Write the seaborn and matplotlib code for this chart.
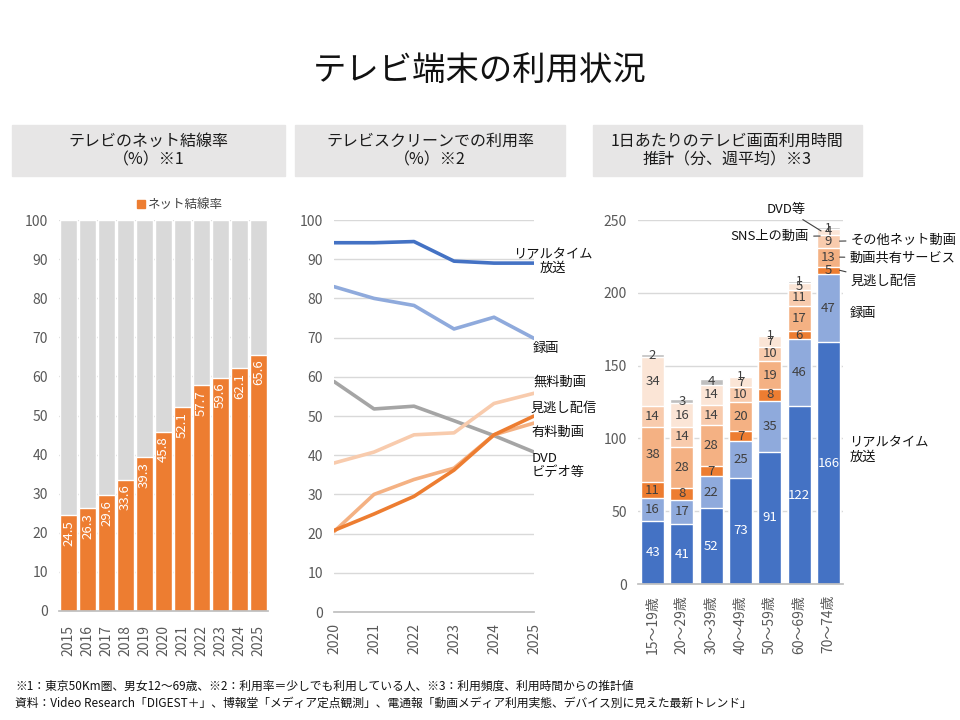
import numpy as np
import pandas as pd
import matplotlib
matplotlib.use("Agg")
import matplotlib.pyplot as plt
from matplotlib.patches import Rectangle, Patch
import seaborn as sns

sns.set_theme(style="white")
plt.rcParams['font.family'] = ['Noto Sans CJK JP', 'DejaVu Sans']

# ---------------- data ----------------
net_years = ["2015", "2016", "2017", "2018", "2019", "2020", "2021", "2022", "2023", "2024", "2025"]
net_rate = [24.5, 26.3, 29.6, 33.6, 39.3, 45.8, 52.1, 57.7, 59.6, 62.1, 65.6]

use_years = [2020, 2021, 2022, 2023, 2024, 2025]
use_realtime = [94.2, 94.2, 94.5, 89.5, 89.0, 89.0]
use_record = [83.0, 80.0, 78.2, 72.2, 75.2, 69.8]
use_free = [38.0, 40.8, 45.2, 45.7, 53.2, 55.8]
use_catchup = [20.8, 25.0, 29.5, 36.2, 45.2, 50.0]
use_paid = [20.5, 30.0, 33.8, 36.7, 45.2, 48.2]
use_dvd = [58.8, 51.8, 52.5, 48.8, 45.0, 40.8]

age_groups = ["15～19歳", "20～29歳", "30～39歳", "40～49歳", "50～59歳", "60～69歳", "70～74歳"]
time_realtime = [43, 41, 52, 73, 91, 122, 166]
time_record = [16, 17, 22, 25, 35, 46, 47]
time_catchup = [11, 8, 7, 7, 8, 6, 5]
time_share = [38, 28, 28, 20, 19, 17, 13]
time_other = [14, 14, 14, 10, 10, 11, 9]
time_sns = [34, 16, 14, 7, 7, 5, 4]
time_dvd = [2, 3, 4, 1, 1, 1, 1]

ORANGE = "#ED7D31"
GRID = "#D9D9D9"
TICK = "#595959"

W, H = 960, 720
fig = plt.figure(figsize=(9.6, 7.2), dpi=100)
fig.patch.set_facecolor("white")


def px_axes(l, t, r, b):
    return fig.add_axes([l / W, 1 - b / H, (r - l) / W, (b - t) / H])


def header(l, t, r, b, text):
    fig.patches.append(Rectangle((l / W, 1 - b / H), (r - l) / W, (b - t) / H,
                                 transform=fig.transFigure, color="#E7E6E6", zorder=0))
    fig.text((l + r) / 2 / W, 1 - (t + b) / 2 / H, text, ha="center", va="center",
             fontsize=11.5, color="#1a1a1a", linespacing=1.15)


def style_axes(ax):
    for s in ["top", "right", "left"]:
        ax.spines[s].set_visible(False)
    ax.spines["bottom"].set_color("#BFBFBF")
    ax.grid(axis="y", color=GRID, linewidth=1)
    ax.set_axisbelow(True)
    ax.tick_params(axis="y", length=0, labelsize=10, labelcolor=TICK, pad=8)
    ax.tick_params(axis="x", labelsize=10, labelcolor=TICK)
    ax.set_xlabel("")
    ax.set_ylabel("")


# ---------------- title & headers ----------------
fig.text(0.5, 1 - 70 / H, "テレビ端末の利用状況", ha="center", va="center", fontsize=24, color="#111111")
header(12, 125, 285, 176, "テレビのネット結線率\n（%）※1")
header(295, 125, 565, 176, "テレビスクリーンでの利用率\n（%）※2")
header(593, 125, 862, 176, "1日あたりのテレビ画面利用時間\n推計（分、週平均）※3")

# ---------------- left chart ----------------
ax1 = px_axes(59, 220, 268, 611)
df_net = pd.DataFrame({"year": net_years, "rate": net_rate, "full": [100] * len(net_years)})
sns.barplot(data=df_net, x="year", y="full", color=GRID, width=0.87, saturation=1,
            errorbar=None, ax=ax1)
sns.barplot(data=df_net, x="year", y="rate", color=ORANGE, width=0.87, saturation=1,
            errorbar=None, ax=ax1)
ax1.set_xlim(-0.5, len(net_years) - 0.5)
ax1.set_ylim(0, 100)
ax1.set_yticks(range(0, 101, 10))
style_axes(ax1)
ax1.grid(False)
ax1.set_xticks(range(len(net_years)))
ax1.set_xticklabels(net_years, rotation=90)
ax1.set_xticks(np.arange(-0.5, len(net_years), 1), minor=True)
ax1.tick_params(axis="x", which="major", length=0, pad=10)
ax1.tick_params(axis="x", which="minor", length=4, color="#BFBFBF")
for yv in range(10, 101, 10):
    ax1.axhline(yv, color=GRID, lw=1, zorder=0)
for i, v in enumerate(net_rate):
    ax1.text(i, v - 1.2, f"{v:.1f}", rotation=90, ha="center", va="top", color="white", fontsize=9.5)
ax1.legend(handles=[Patch(color=ORANGE, label="ネット結線率")], loc="lower center",
           bbox_to_anchor=(0.58, 1.0), frameon=False, handlelength=0.6, handleheight=0.6,
           handletextpad=0.3, fontsize=9, labelcolor="#404040", borderaxespad=0.3)

# ---------------- middle chart ----------------
ax2 = px_axes(334, 220, 534, 612)
df_use = pd.DataFrame({
    "year": use_years,
    "DVD・ビデオ等": use_dvd,
    "無料動画": use_free,
    "有料動画": use_paid,
    "見逃し配信": use_catchup,
    "録画": use_record,
    "リアルタイム放送": use_realtime,
})
df_long = df_use.melt(id_vars="year", var_name="series", value_name="rate")
pal = {
    "DVD・ビデオ等": "#A5A5A5",
    "無料動画": "#F8CBAD",
    "有料動画": "#F4B183",
    "見逃し配信": ORANGE,
    "録画": "#8FAADC",
    "リアルタイム放送": "#4472C4",
}
sns.lineplot(data=df_long, x="year", y="rate", hue="series", hue_order=list(pal.keys()),
             palette=pal, linewidth=2.6, legend=False, ax=ax2)
ax2.set_xlim(2020, 2025)
ax2.set_ylim(0, 100)
ax2.set_yticks(range(0, 101, 10))
style_axes(ax2)
ax2.set_xticks(use_years)
ax2.set_xticklabels([str(y) for y in use_years], rotation=90)
ax2.tick_params(axis="x", length=4, color="#BFBFBF", pad=4)

lab_kw = dict(fontsize=9.5, color="#111111", va="center", clip_on=False)
ax2.text(2025.48, 89.5, "リアルタイム\n放送", ha="center", linespacing=1.1, **lab_kw)
ax2.text(2025.3, 67.1, "録画", ha="center", **lab_kw)
ax2.text(2025.65, 58.7, "無料動画", ha="center", **lab_kw)
ax2.text(2025.75, 52.0, "見逃し配信", ha="center", **lab_kw)
ax2.text(2025.6, 45.9, "有料動画", ha="center", **lab_kw)
ax2.text(2024.93, 37.5, "DVD\nビデオ等", ha="left", linespacing=1.1, **lab_kw)

# ---------------- right chart ----------------
ax3 = px_axes(638, 220, 843, 584)
layers = [
    ("リアルタイム放送", time_realtime, "#4472C4", "white"),
    ("録画", time_record, "#8FAADC", "#404040"),
    ("見逃し配信", time_catchup, ORANGE, "#404040"),
    ("動画共有サービス", time_share, "#F4B183", "#404040"),
    ("その他ネット動画", time_other, "#F8CBAD", "#404040"),
    ("SNS上の動画", time_sns, "#FBE5D6", "#404040"),
    ("DVD等", time_dvd, "#BFBFBF", "#404040"),
]
vals = np.array([l[1] for l in layers], dtype=float)
cums = np.cumsum(vals, axis=0)
for k in range(len(layers) - 1, -1, -1):
    dfk = pd.DataFrame({"age": age_groups, "cum": cums[k]})
    sns.barplot(data=dfk, x="age", y="cum", color=layers[k][2], width=0.79, saturation=1,
                errorbar=None, ax=ax3)
for k, (name, v, c, tc) in enumerate(layers):
    for i in range(len(age_groups)):
        ax3.text(i, cums[k][i] - v[i] / 2, f"{int(v[i])}", ha="center", va="center",
                 color=tc, fontsize=9.5 if v[i] > 1 else 8.5)
ax3.set_xlim(-0.5, len(age_groups) - 0.5)
ax3.set_ylim(0, 250)
ax3.set_yticks(range(0, 251, 50))
style_axes(ax3)
ax3.set_xticks(range(len(age_groups)))
ax3.set_xticklabels(age_groups, rotation=90)
ax3.tick_params(axis="x", length=0, pad=8)

ann_kw = dict(fontsize=9.5, color="#111111", va="center", annotation_clip=False,
              arrowprops=dict(arrowstyle="-", color="#404040", lw=0.8, shrinkA=1, shrinkB=0))
ax3.annotate("DVD等", xy=(5.75, 242.5), xytext=(4.55, 257.5), ha="center", **ann_kw)
ax3.annotate("SNS上の動画", xy=(5.72, 239), xytext=(5.34, 238.5), ha="right", **ann_kw)
ax3.annotate("その他ネット動画", xy=(6.38, 235.5), xytext=(6.76, 236.3), ha="left", **ann_kw)
ax3.annotate("動画共有サービス", xy=(6.38, 224.5), xytext=(6.72, 224), ha="left", **ann_kw)
ax3.annotate("見逃し配信", xy=(6.38, 215.5), xytext=(6.76, 208), ha="left", **ann_kw)
ax3.text(6.72, 186, "録画", ha="left", fontsize=9.5, color="#111111", va="center", clip_on=False)
ax3.text(6.72, 92, "リアルタイム\n放送", ha="left", fontsize=9.5, color="#111111", va="center",
         linespacing=1.1, clip_on=False)

# ---------------- footnotes ----------------
fig.text(15 / W, 1 - 686 / H,
         "※1：東京50Km圏、男女12～69歳、※2：利用率＝少しでも利用している人、※3：利用頻度、利用時間からの推計値",
         ha="left", va="center", fontsize=8.5, color="#111111")
fig.text(15 / W, 1 - 703 / H,
         "資料：Video Research「DIGEST＋」、博報堂「メディア定点観測」、電通報「動画メディア利用実態、デバイス別に見えた最新トレンド」",
         ha="left", va="center", fontsize=8.5, color="#111111")

fig.savefig("out.png", dpi=100, facecolor="white")
